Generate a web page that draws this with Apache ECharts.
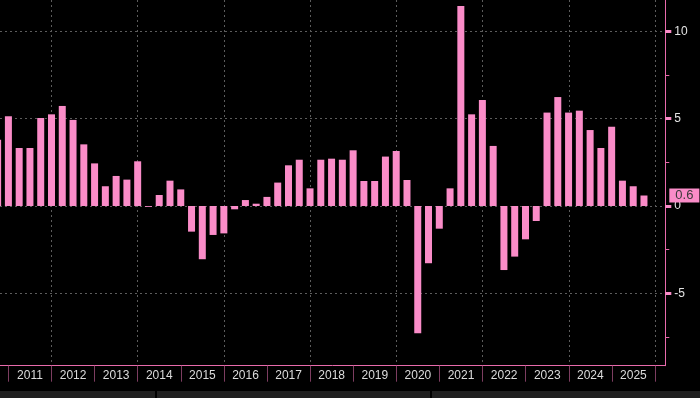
<!DOCTYPE html>
<html>
<head>
<meta charset="utf-8">
<script src="https://cdn.jsdelivr.net/npm/echarts@6/dist/echarts.min.js"></script>
<style>
html,body{margin:0;padding:0;background:#000;}
#c{width:700px;height:398px;}
</style>
</head>
<body>
<div id="c"></div>
<script>
// Quarterly values (quarter label -> value)
const quarters = [
  '2010Q3','2010Q4',
  '2011Q1','2011Q2','2011Q3','2011Q4',
  '2012Q1','2012Q2','2012Q3','2012Q4',
  '2013Q1','2013Q2','2013Q3','2013Q4',
  '2014Q1','2014Q2','2014Q3','2014Q4',
  '2015Q1','2015Q2','2015Q3','2015Q4',
  '2016Q1','2016Q2','2016Q3','2016Q4',
  '2017Q1','2017Q2','2017Q3','2017Q4',
  '2018Q1','2018Q2','2018Q3','2018Q4',
  '2019Q1','2019Q2','2019Q3','2019Q4',
  '2020Q1','2020Q2','2020Q3','2020Q4',
  '2021Q1','2021Q2','2021Q3','2021Q4',
  '2022Q1','2022Q2','2022Q3','2022Q4',
  '2023Q1','2023Q2','2023Q3','2023Q4',
  '2024Q1','2024Q2','2024Q3','2024Q4',
  '2025Q1','2025Q2','2025Q3'
];
const values = [
  3.8, 5.14,
  3.32, 3.32, 5.04, 5.25,
  5.73, 4.93, 3.53, 2.44,
  1.13, 1.72, 1.51, 2.56,
  -0.05, 0.63, 1.45, 0.95,
  -1.47, -3.05, -1.66, -1.57,
  -0.19, 0.34, 0.13, 0.52,
  1.34, 2.33, 2.65, 1.01,
  2.65, 2.71, 2.65, 3.19,
  1.43, 1.43, 2.83, 3.15,
  1.49, -7.29, -3.28, -1.30,
  1.01, 11.45, 5.25, 6.07,
  3.44, -3.67, -2.90, -1.91,
  -0.86, 5.35, 6.24, 5.35,
  5.46, 4.35, 3.32, 4.54,
  1.45, 1.13, 0.6
];
const years = ['2011','2012','2013','2014','2015','2016','2017','2018','2019','2020','2021','2022','2023','2024','2025'];
const yLabelValues = [-5, 0, 5, 10];
const yMinorValues = [-7.5, -2.5, 2.5, 7.5];

// quarter-end position in decimal years
function qPos(q) {
  const y = parseInt(q.slice(0, 4), 10);
  const n = parseInt(q.slice(5), 10);
  return y + n / 4;
}
const barData = quarters.map((q, i) => [qPos(q), values[i]]);
const lastValue = values[values.length - 1];

const PINK = '#fa8cc8';
const LINEPINK = '#e86aac';
const GRIDC = '#5c5c5c';
const FONT = 'Liberation Sans, Arial, sans-serif';

const chart = echarts.init(document.getElementById('c'), null, {renderer: 'canvas'});
chart.setOption({
  backgroundColor: '#000',
  animation: false,
  grid: [
    {left: 0, right: 34.7, top: 0, bottom: 32.3},
    {left: 8.4, right: 45, top: 0, bottom: 32.3}
  ],
  xAxis: [
    {
      type: 'value', gridIndex: 0, min: 2010.805, max: 2026.245,
      axisLine: {show: true, onZero: false, lineStyle: {color: LINEPINK, width: 1}},
      axisTick: {show: false}, axisLabel: {show: false}, splitLine: {show: false}
    },
    {
      type: 'category', gridIndex: 1, data: years, boundaryGap: true,
      axisLine: {show: false, onZero: false},
      axisTick: {show: true, interval: 0, length: 16, lineStyle: {color: '#7d3d60', width: 1}},
      axisLabel: {show: true, interval: 0, color: '#dcdcdc', fontSize: 12,
        fontFamily: FONT, margin: 4},
      splitLine: {show: true, interval: function (i) { return i % 2 === 1; },
        lineStyle: {color: GRIDC, type: [2, 3], width: 1}}
    }
  ],
  yAxis: [
    {
      type: 'value', gridIndex: 0, position: 'right', min: -9.15, max: 11.8,
      axisLine: {show: true, lineStyle: {color: LINEPINK, width: 1}},
      axisTick: {show: true, inside: false, length: 6, customValues: yLabelValues,
        lineStyle: {color: PINK, width: 3}},
      axisLabel: {show: true, customValues: yLabelValues, color: '#e4e4e4', fontSize: 12,
        fontFamily: FONT, margin: 9},
      splitLine: {show: true, lineStyle: {color: GRIDC, type: [2, 3], width: 1}}
    },
    {
      type: 'value', gridIndex: 0, position: 'right', min: -9.15, max: 11.8,
      axisLine: {show: false},
      axisTick: {show: true, inside: false, length: 4, customValues: yMinorValues,
        lineStyle: {color: LINEPINK, width: 1}},
      axisLabel: {show: false},
      splitLine: {show: false}
    },
    {
      type: 'value', gridIndex: 1, show: false, min: 0, max: 1
    }
  ],
  series: [
    {
      type: 'bar', xAxisIndex: 0, yAxisIndex: 0,
      data: barData, barWidth: 7,
      itemStyle: {color: PINK},
      clip: true,
      markLine: {
        silent: true, symbol: ['none', 'none'],
        lineStyle: {color: 'rgba(0,0,0,0)', width: 1, type: 'solid'},
        data: [{yAxis: lastValue}],
        label: {
          show: true, position: 'end', distance: 4,
          formatter: function () { return lastValue.toFixed(1); },
          backgroundColor: PINK, color: '#3a3a3a', fontSize: 13, lineHeight: 13,
          fontFamily: FONT, opacity: 1,
          padding: [1, 6, 0, 6]
        }
      }
    }
  ],
  graphic: [
    {type: 'rect', left: 0, top: 391, shape: {width: 155, height: 7}, style: {fill: '#202020'}},
    {type: 'rect', left: 157, top: 391, shape: {width: 273, height: 7}, style: {fill: '#202020'}},
    {type: 'rect', left: 432, top: 391, shape: {width: 268, height: 7}, style: {fill: '#202020'}}
  ]
});
</script>
</body>
</html>
